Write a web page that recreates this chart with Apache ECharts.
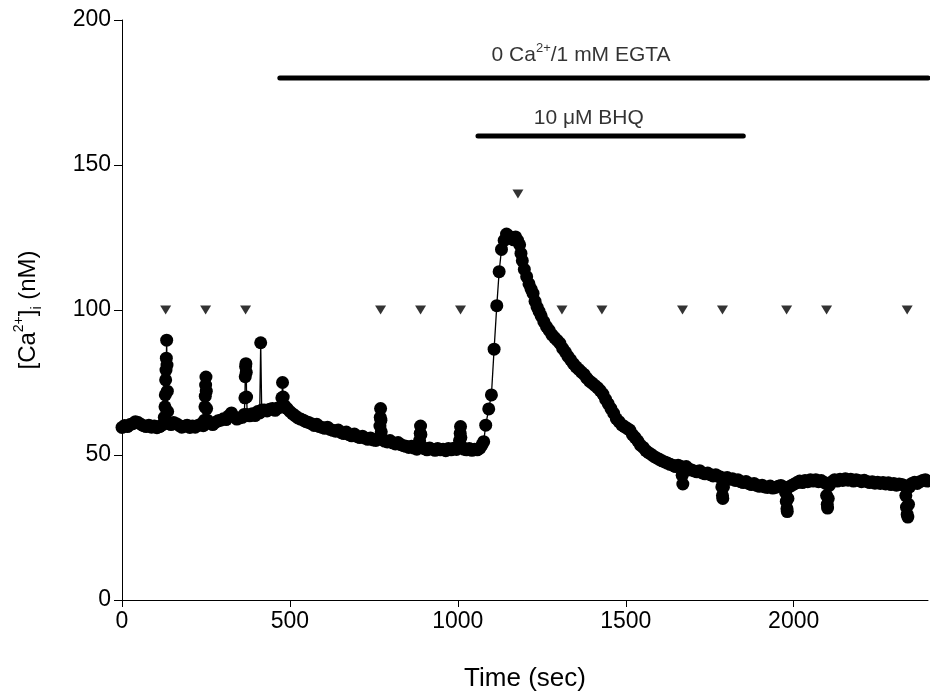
<!DOCTYPE html>
<html>
<head>
<meta charset="utf-8">
<script src="https://cdn.jsdelivr.net/npm/echarts@6/dist/echarts.min.js"></script>
<style>
  html, body { margin: 0; padding: 0; background: #fff; }
  #chart { width: 930px; height: 700px; }
</style>
</head>
<body>
<div id="chart"></div>
<script>
// [time (sec), Ca2+ (nM)]
const trace = [
  [0,59.5],[8,60.2],[16,59.8],[24,60.5],[32,60.8],[40,61.5],[48,61.2],[56,60.6],[64,60.1],[72,59.8],
  [80,60.3],[88,59.6],[96,60.0],[104,59.4],[112,59.8],[120,60.4],
  [126,63],[128,66.6],[129,70.7],[130,75.9],[131,79.3],[132,83.4],[133,89.6],[134,81],[135,72],[136,65],[138,61],
  [146,60.5],[154,61.2],[162,60.8],[170,60.2],[178,59.6],[186,59.9],[194,60.3],[202,59.5],[210,60.0],
  [218,59.6],[226,60.2],[234,60.6],[242,60.1],
  [246,62],[247,66.6],[248,70.3],[249,74.1],[250,76.9],[251,72],[252,66],[254,62],
  [262,61],[270,60.5],[278,61.2],[286,61.8],[294,62.0],[302,62.5],[310,62.2],[318,63.5],[326,64.5],
  [334,63.2],[342,62.4],[350,62.8],[358,63.0],
  [364,64],[366,69.7],[367,77],[368,80.5],[369,81.5],[370,78.5],[371,70],[373,64],
  [380,63.5],[388,64.2],[396,63.6],[404,65.0],[410,64.5],[413,88.7],[416,65.5],
  [424,65.5],[432,65.2],[440,65.8],[448,66.0],[456,65.4],[464,66.2],[472,66.5],
  [476,69.7],[478,75],[480,70],[484,67],[492,66.0],[500,65.0],
  [508,64.2],[516,63.5],[524,62.8],[532,62.4],[540,62.0],[548,61.5],[556,61.2],[564,60.8],[572,60.2],
  [580,60.6],[588,59.8],[596,59.5],[604,59.2],[612,59.6],[620,58.8],[628,58.5],[636,58.2],[644,58.6],
  [652,57.8],[660,57.4],[668,57.9],[676,57.0],[684,56.6],[692,57.2],[700,56.4],[708,56.0],[716,56.5],
  [724,55.8],[732,55.4],[740,55.9],[748,55.2],[756,55.0],[762,55.4],
  [766,56],[768,60],[769,63],[770,66],[771,62],[772,58],[775,55.5],
  [782,54.8],[790,54.5],[798,55.0],[806,54.2],[814,53.8],[822,54.3],[830,53.6],[838,53.2],[846,53.0],
  [854,52.6],[862,53.0],[870,52.4],[878,52.0],[884,52.5],
  [886,55],[888,57.5],[889,60],[890,57],[892,53],
  [900,52.2],[908,51.8],[916,52.4],[924,52.0],[932,51.6],[940,52.2],[948,51.8],[956,52.0],[964,51.5],
  [972,52.2],[980,51.8],[988,52.3],[996,51.9],[1002,52.5],
  [1005,55],[1007,57.5],[1008,59.8],[1009,56],[1011,53],
  [1018,52.0],[1026,51.8],[1034,52.2],[1042,51.6],[1050,52.0],[1058,51.8],[1066,52.4],[1072,53.5],
  [1077,54.6],[1083,60.3],[1092,65.9],[1100,70.7],[1108,86.5],[1116,101.5],[1123,113.2],[1130,120.9],
  [1138,124.0],[1145,126.2],[1152,125.5],[1160,125.0],[1166,124.2],[1172,125.2],[1178,124.0],[1184,122.5],
  [1188,119.5],[1192,117],[1198,114],[1205,111.5],[1212,109],[1218,107.2],[1224,105.7],[1230,103],
  [1236,101],[1242,99.5],[1248,98],[1256,96],[1264,94.3],[1272,93],[1280,91.5],[1288,90.5],[1296,89.5],
  [1304,88.5],[1312,86.8],[1320,85.5],[1328,84],[1336,82.8],[1344,81.5],[1352,80.4],[1360,79.5],
  [1368,78.6],[1376,77.8],[1384,76.5],[1392,75.5],[1400,74.8],[1408,74.0],[1416,73.2],[1424,72.2],
  [1432,71.0],[1440,69.2],[1448,67.6],[1456,66.0],[1464,64.4],[1472,62.5],[1480,61.5],[1488,60.4],
  [1496,59.8],[1504,59.2],[1512,58.6],[1520,57.0],[1528,56.0],[1536,54.8],[1544,53.4],[1552,52.6],
  [1560,51.5],[1568,50.8],[1576,50.2],[1584,49.5],[1592,49.0],[1600,48.5],[1608,48.0],[1616,47.6],
  [1624,47.2],[1632,46.8],[1640,46.5],[1648,46.0],[1656,46.5],[1664,46.0],
  [1668,43],[1670,40],[1672,44],
  [1680,46.0],[1688,45.2],[1696,44.8],[1704,44.5],[1712,44.2],[1720,44.6],[1728,43.8],[1736,43.5],
  [1744,43.8],[1752,43.2],[1760,42.8],[1768,43.2],[1776,42.6],[1782,42.4],
  [1786,39],[1788,36],[1789,35],[1791,39],[1794,42],
  [1802,42.2],[1810,41.6],[1818,41.8],[1826,41.2],[1834,41.5],[1842,40.8],[1850,40.5],[1858,40.9],
  [1866,40.2],[1874,39.8],[1882,40.2],[1890,39.5],[1898,39.2],[1906,39.6],[1914,39.0],[1922,38.8],
  [1930,39.3],[1938,38.6],[1946,38.8],[1954,39.2],[1962,39.5],[1970,39.0],
  [1976,37],[1978,34],[1980,31.5],[1981,30.5],[1983,35],[1986,39],
  [1994,39.5],[2002,40.0],[2010,40.5],[2018,41.0],[2026,40.5],[2034,41.2],[2042,40.8],[2050,41.5],
  [2058,41.0],[2066,41.5],[2074,40.8],[2082,41.2],[2090,40.6],[2096,40.2],
  [2098,36],[2100,33],[2101,31.7],[2103,35],[2106,39.5],
  [2114,40.8],[2122,41.5],[2130,41.0],[2138,41.6],[2146,41.2],[2154,41.8],[2162,41.3],[2170,41.6],
  [2178,41.0],[2186,41.5],[2194,41.2],[2202,40.8],[2210,41.3],[2218,40.9],[2226,40.5],[2234,40.8],
  [2242,40.3],[2250,40.6],[2258,40.2],[2266,40.5],[2274,40.0],[2282,40.4],[2290,39.8],[2298,40.2],
  [2306,39.6],[2314,40.0],[2322,39.8],[2330,39.5],
  [2334,36],[2336,32],[2338,29.5],[2340,28.6],[2342,33],[2345,39],
  [2352,40.2],[2360,40.6],[2368,40.2],[2376,40.8],[2384,41.2],[2392,41.5],[2398,41.0]
];

// stimulus markers (down triangles)
const stimTimes = [130, 249, 368, 770, 889, 1008, 1310, 1429, 1669, 1788, 1979, 2098, 2338];
const stimLevel = 100;
const bhqStim = [[1179, 140]];

// treatment bars
const egtaBar = [[470, 180], [2400, 180]];
const bhqBar = [[1060, 160], [1850, 160]];
const barLabels = [
  { value: [1367, 188], text: "0 Ca{sup|2+}/1 mM EGTA" },
  { value: [1390, 166], text: "10 \u03bcM BHQ" }
];

const xTicks = [0, 500, 1000, 1500, 2000];
const yTicks = [0, 50, 100, 150, 200];

const chart = echarts.init(document.getElementById("chart"));
const font = "Liberation Sans, Arial, sans-serif";

chart.setOption({
  animation: false,
  textStyle: { fontFamily: font },
  grid: { left: 122, right: 2, top: 20, bottom: 100 },
  xAxis: {
    type: "value",
    min: 0,
    max: 2400,
    interval: 500,
    name: "Time (sec)",
    nameLocation: "middle",
    nameGap: 66,
    nameTextStyle: { fontSize: 26, color: "#000", fontFamily: font },
    axisLine: { lineStyle: { color: "#000", width: 1 } },
    axisTick: { length: 7, customValues: xTicks, lineStyle: { color: "#000" } },
    axisLabel: {
      fontSize: 23, color: "#000", margin: 10, fontFamily: font,
      customValues: xTicks,
      formatter: (v) => String(v)
    },
    splitLine: { show: false }
  },
  yAxis: {
    type: "value",
    min: 0,
    max: 200,
    interval: 50,
    name: "[Ca{sup|2+}]{sub|i} (nM)",
    nameLocation: "middle",
    nameRotate: 90,
    nameGap: 78,
    nameTextStyle: {
      fontSize: 24, color: "#000", fontFamily: font, lineHeight: 32,
      rich: {
        sup: { fontSize: 14, verticalAlign: "top", lineHeight: 32, color: "#000", fontFamily: font },
        sub: { fontSize: 14, verticalAlign: "bottom", lineHeight: 32, color: "#000", fontFamily: font }
      }
    },
    axisLine: { show: true, lineStyle: { color: "#000", width: 1 } },
    axisTick: { show: true, length: 8, lineStyle: { color: "#000" } },
    axisLabel: {
      fontSize: 23, color: "#000", margin: 11, fontFamily: font,
      formatter: (v) => (yTicks.includes(v) ? String(v) : "")
    },
    splitLine: { show: false }
  },
  series: [
    {
      name: "trace",
      type: "line",
      data: trace,
      symbol: "circle",
      symbolSize: 13,
      showSymbol: true,
      showAllSymbol: true,
      clip: false,
      lineStyle: { color: "#000", width: 1.3 },
      itemStyle: { color: "#000" }
    },
    {
      name: "stim",
      type: "scatter",
      data: stimTimes.map((t) => [t, stimLevel]).concat(bhqStim),
      symbol: "triangle",
      symbolRotate: 180,
      symbolSize: [11, 9],
      itemStyle: { color: "#000" }
    },
    {
      name: "egta",
      type: "line",
      data: egtaBar,
      symbol: "none",
      clip: false,
      lineStyle: { color: "#000", width: 5, cap: "round" }
    },
    {
      name: "bhq",
      type: "line",
      data: bhqBar,
      symbol: "none",
      lineStyle: { color: "#000", width: 5, cap: "round" }
    },
    {
      name: "labels",
      type: "scatter",
      data: barLabels.map((d) => ({ value: d.value, text: d.text })),
      symbolSize: 1,
      itemStyle: { color: "rgba(0,0,0,0)" },
      label: {
        show: true,
        position: "inside",
        color: "#000",
        fontSize: 21,
        fontFamily: font,
        lineHeight: 26,
        formatter: (p) => p.data.text,
        rich: {
          sup: { fontSize: 13, verticalAlign: "top", lineHeight: 26, color: "#000", fontFamily: font }
        }
      }
    }
  ]
});
</script>
</body>
</html>
